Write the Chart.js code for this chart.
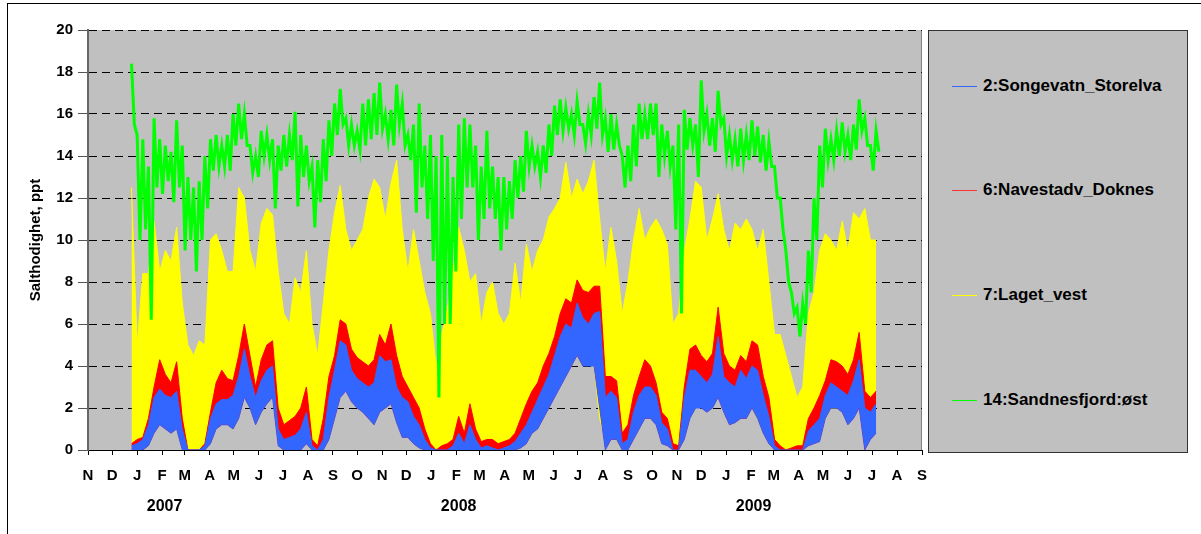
<!DOCTYPE html>
<html>
<head>
<meta charset="utf-8">
<script src="https://cdn.jsdelivr.net/npm/chart.js@4.4.1/dist/chart.umd.min.js"></script>
<style>
html,body{margin:0;padding:0;background:#fff;}
#wrap{position:relative;width:1201px;height:534px;overflow:hidden;font-family:"Liberation Sans",Arial,sans-serif;}
#frame{position:absolute;left:7px;top:3px;width:1400px;height:700px;border:1px solid #000;box-sizing:border-box;}
canvas{position:absolute;left:0;top:0;}
#legend{position:absolute;left:928px;top:30px;width:260px;height:423px;background:#c0c0c0;border:1px solid #333;box-sizing:border-box;}
.item{position:absolute;left:23px;height:20px;display:flex;align-items:center;font-weight:bold;font-size:17px;color:#000;white-space:nowrap;}
.item .sw{width:25px;height:1px;margin-right:6px;}
</style>
</head>
<body>
<div id="wrap">
  <div id="frame"></div>
  <canvas id="c" width="1201" height="534"></canvas>
  <div id="legend"></div>
</div>
<script>
// ---- axis labels ----
const monthLabels = ['N','D','J','F','M','A','M','J','J','A','S','O','N','D',
  'J','F','M','A','M','J','J','A','S','O','N','D',
  'J','F','M','A','M','J','J','A','S'];
const yearLabels = ['2007','2008','2009'];
const seriesNames = ['2:Songevatn_Storelva','6:Navestadv_Doknes','7:Laget_vest','14:Sandnesfjord:øst'];

// weekly samples starting 2006-12-25 (read as weekly high / low of each record)
const sampleStart = '2006-12-25';
const sampleStepDays = 7;

// 14:Sandnesfjord:øst (green)
const greenHi = [18.4,15,14.8,13.5,15.8,14.8,14.5,14.2,15.7,14.5,
  13,12.5,12.8,14,14.8,15,14.5,15,16,16.5,
  16,14.5,14,15.2,15,14.8,14.5,15,15,16.1,
  15,14.5,13.5,13.8,14.8,15.7,16.5,17.2,15.8,15.5,
  15.2,16.5,16.7,17,17.5,16,16.2,17.4,16.5,15,
  15.5,16.5,14.5,15,14,15,14,13,15.5,15.8,
  15.5,14.5,13.5,15.2,13.5,13,13,12.8,13.8,14,
  15.2,14.5,14.2,14.5,15.5,16.4,16.7,16.3,16,16.6,
  15.5,16,16.8,17.5,15.8,16,15.5,14,14.5,15.5,
  16.5,16,16.5,16.5,15.5,15.2,14.5,15.5,16.2,15.8,
  15.5,17.6,16,15.8,17.1,15.8,15,14.8,15.3,15,
  15.7,15.4,15,14.7,13.5,12,9.5,7.5,6.8,7,
  9.5,12,14.5,15.3,14.8,15.2,15.6,15,15.5,16.7,
  15.8,14.5,15.2];
const greenLo = [15.5,10,10.5,6.2,12.5,12.2,12.8,11.8,12.5,9.5,
  10,8.5,10,11.5,13.3,13.5,13.5,13.3,14.5,14.8,
  14.5,13.2,13,14,13.8,11.5,13.3,13.5,13.8,11.6,
  13,12.8,10.6,11.8,12.8,14,15,15.5,14.5,14.5,
  14.3,14.5,14.8,15,15.3,14.8,14.5,15.5,14.5,13.8,
  11.3,12.5,11,9,2.5,6,6,8.5,11,12.5,
  12.5,10,11,11.5,11,9.5,10.5,11,12,12.3,
  13.5,13.5,13,13.2,14,15,15.2,15.3,15,15.5,
  14.6,15,15.3,15,14.2,14.3,14.5,12.5,12.8,13.5,
  14.8,14.8,15,13,14,13.5,10.5,6.5,14.3,14.5,
  13,15.2,14.5,14.2,15.5,14,13.8,13.5,13.8,13.8,
  14,13.7,13.3,13.5,12,10.5,8,6.5,5.4,6,
  7.5,10,12.5,13.8,13.8,14,14.2,13.8,14.3,15.2,
  14.5,13.3,14.2];

// 7:Laget_vest (yellow)
const yellowHi = [12.5,5,8.4,8.4,10.9,8.5,9.5,9,10.6,7,
  5,4.5,5.2,5,10,10.3,9.5,8.5,8.5,12.5,
  12,9.5,8.5,10.8,11.5,11.2,8.5,6.5,6,8.2,
  7.5,9.5,6,4.5,7,9.5,11.3,12.6,10.5,9.5,
  10,10.5,12,12.9,12.5,11,12.7,13.8,10.5,8.5,
  10.5,9,7.5,6.5,4,5.5,6.7,8.5,10.6,9.5,
  8,8.4,6,7.5,8,6.5,6,6.5,8.9,7,
  9.8,8.5,9.5,10,11.1,11.5,12,13.7,12,12.9,
  12.2,12.8,13.8,11,8.5,10.6,9,6.5,8,10,
  11.5,10,10.6,11,10.5,9.8,6,6.5,9.5,11,
  12.8,12.5,10,11,12.2,10.5,9.5,10.8,10.5,11,
  10.5,9.5,10.5,8,5.5,5.5,4.5,3.5,2.5,3,
  6.5,7.5,9.5,10.3,10,9.5,10.9,9.5,11.3,11,
  11.5,10,10];
const yellowLo = [0,0,0,0.5,2,2.5,2.5,2.5,2,0,
  0,0,0,0,1.5,2,2,2,2.5,3,
  3.5,3,2.5,3,3.5,3,2,0.5,0.3,0.5,
  0.5,1,0,0,0.5,2,3,3.5,4,3.5,
  3.5,3,3,3.5,3.5,3,3.5,3,2,1.5,
  1.5,1,0.5,0,0,0,0,0,0.5,0.5,
  0.3,0.3,0.3,0.3,0.3,0.2,0.2,0.3,0.3,0.5,
  1,1.5,1.5,2,2.5,3,3.5,4,4,4.5,
  4,4.5,4,1.5,0.5,0.5,0.5,0,0.3,1,
  1.5,1.5,1.5,1.5,1,1,0,0,1,2,
  2.5,2.8,3,3,2.5,2.5,2.5,2,2,2,
  2,1.5,1,0.5,0,0,0,0,0,0,
  0.3,0.5,0.8,1.5,2,2,2,2,2,2.5,
  2.5,1.5,1.5];

// 6:Navestadv_Doknes (red), weekly high
const redHi = [0.3,0.5,0.6,1.5,3,4.3,3.6,3.2,4.2,1.5,
  0,0,0,0.3,1.8,3.2,3.8,3.4,3.3,4.5,
  6,4.5,3,4.3,5,5.2,2,1.2,1.4,1.6,
  2,3,0.5,0.2,1.5,3.5,4.5,6.2,6,4.8,
  4.4,4.2,4,4.3,5.5,5,6,4.5,3.5,3,
  2.5,2,1,0.3,0,0.2,0.3,0.5,1.6,0.8,
  2.2,1,0.4,0.5,0.5,0.3,0.4,0.5,0.8,1.5,
  2.2,2.8,3.2,4,4.6,5.4,6.5,7.2,7,8.1,
  7.6,7.5,7.8,7.8,3.5,3.5,3.3,0.8,1.2,2.6,
  3.5,4.3,4,3.2,1.8,1.5,0.3,0.2,3,4.8,
  5,4.5,4.2,4.6,6.8,4.6,4,3.8,4.5,4.2,
  5.2,5,3.5,2.5,0.5,0.2,0,0.1,0.2,0.2,
  1.5,2,2.6,3.3,4.3,4.2,4,3.6,4.3,5.6,
  2.8,2.5,2.8];

// 2:Songevatn_Storelva (blue)
const blueHi = [0.2,0.3,0.5,1.2,2.5,2.9,2.6,2.5,2.8,1,
  0,0,0,0.2,1.5,2.2,2.4,2.4,2.6,3.5,
  4.8,3.5,2.5,3.3,3.8,4,1,0.5,0.6,0.7,
  1,1.8,0.2,0,0.5,2.5,3.8,5.2,5,3.8,
  3.4,3.2,3,3.2,4.5,4.2,4.3,3,2.5,2.3,
  1.6,1.2,0.5,0.1,0,0,0,0.2,0.8,0.3,
  1.2,0.5,0.1,0.2,0.1,0,0.1,0.2,0.4,0.8,
  1.2,1.8,2.4,3,3.6,4.5,5.4,6,5.8,7,
  6.3,6,6.5,6.6,2.5,2.8,2.5,0.3,0.5,1.8,
  2.6,3,3,2.6,1.3,1,0,0,2.5,3.8,
  3.8,3.5,3.2,3.6,5.4,3.5,3.2,3,3.8,3.4,
  4,3.8,2.6,1.6,0.2,0,0,0,0,0,
  0.9,1.2,1.5,2.6,3.2,3,2.8,2.6,3.3,4.3,
  2,1.8,2.2];
const blueLo = [0,0,0,0.2,0.8,1.2,1,0.8,1,0,
  0,0,0,0,0.3,1,1.2,1.2,1,1.5,
  2.5,2,1.2,1.8,2.2,2.5,0.2,0,0,0,
  0,0.3,0,0,0,0.5,1.5,2.5,2.8,2.3,
  2,1.8,1.5,1.2,1.8,2,2.2,1.3,0.6,0.6,
  0.3,0.1,0,0,0,0,0,0,0,0,
  0,0,0,0,0,0,0,0,0,0.1,
  0.3,0.8,1,1.5,2,2.5,3,3.5,4,4.5,
  4,4,4,2,0,0.5,0.5,0,0,0.5,
  1,1.5,1.5,1.2,0.3,0.2,0,0,0.5,1.5,
  2,2,1.8,2,2.5,1.8,1.2,1.3,1.5,1.5,
  2,1.5,0.8,0.3,0,0,0,0,0,0,
  0.2,0.3,0.4,1.5,2,2,1.8,1.2,1.5,2,
  0,0.5,0.8];

const colors = {blue:'#3366ff', red:'#ff0000', yellow:'#ffff00', green:'#00ff00'};

// ---- time helpers (days since 2006-11-01 = left edge of axis) ----
const DAY = 86400000;
const axisStart = Date.UTC(2006, 10, 1);
const dayOf = (y, m, d) => (Date.UTC(y, m, d) - axisStart) / DAY;
const monthDays = monthLabels.map((_, i) => dayOf(2006, 10 + i, 1));
const yearDays = yearLabels.map(y => dayOf(+y, 1, 4));
const s0 = sampleStart.split('-').map(Number);
const firstDay = dayOf(s0[0], s0[1] - 1, s0[2]);
const sampleDays = greenHi.map((_, i) => firstDay + i * sampleStepDays);

// green record drawn as a noisy trace: weekly high, then weekly low half a week later
const greenTrace = [];
greenHi.forEach((h, i) => {
  greenTrace.push({x: sampleDays[i], y: h});
  greenTrace.push({x: sampleDays[i] + sampleStepDays / 2, y: greenLo[i]});
});

const FONT = '"Liberation Sans", Arial, sans-serif';
Chart.defaults.font.family = FONT;
Chart.defaults.color = '#000';

const plotBg = {
  id: 'plotBg',
  beforeDraw(chart) {
    const {ctx, chartArea: a} = chart;
    ctx.save();
    ctx.fillStyle = '#c0c0c0';
    ctx.fillRect(a.left, a.top, a.right - a.left, a.bottom - a.top);
    ctx.strokeStyle = '#808080';
    ctx.lineWidth = 1;
    ctx.beginPath();
    ctx.moveTo(a.right - 0.5, a.top);
    ctx.lineTo(a.right - 0.5, a.bottom);
    ctx.stroke();
    ctx.restore();
  }
};

function band(label, data, color, order, fill) {
  return {label, data, borderColor: color, backgroundColor: color, borderWidth: 1,
    pointRadius: 0, tension: 0, order, fill: fill === undefined ? false : fill};
}

new Chart(document.getElementById('c'), {
  type: 'line',
  data: {
    labels: sampleDays,
    datasets: [
      band('yLo', yellowLo, colors.yellow, 7),
      band(seriesNames[2], yellowHi, colors.yellow, 6, '-1'),
      band('bLo', blueLo, colors.blue, 5),
      band(seriesNames[1], redHi, colors.red, 4, '-1'),
      band(seriesNames[0], blueHi, colors.blue, 3, '-2'),
      {label: seriesNames[3], data: greenTrace, borderColor: colors.green, backgroundColor: colors.green,
        borderWidth: 3, pointRadius: 0, tension: 0, order: 1, fill: false}
    ]
  },
  options: {
    responsive: false,
    animation: false,
    layout: {padding: {left: 27, top: 30, right: 279, bottom: 0}},
    plugins: {legend: {display: false}, tooltip: {enabled: false}},
    scales: {
      x: {
        type: 'linear', position: 'bottom', weight: 0, min: 0, max: monthDays[monthDays.length - 1],
        afterBuildTicks: s => { s.ticks = monthDays.map(v => ({value: v})); },
        afterFit: s => { s.height = 40; },
        ticks: {autoSkip: false, maxRotation: 0, minRotation: 0, padding: 12,
          font: {size: 15, weight: 'bold'}, color: '#000',
          callback: (v, i) => monthLabels[i]},
        grid: {drawOnChartArea: false, drawTicks: true, tickLength: 5, color: '#000'},
        border: {color: '#000', width: 1}
      },
      x2: {
        type: 'linear', position: 'bottom', weight: 1, min: 0, max: monthDays[monthDays.length - 1],
        afterBuildTicks: s => { s.ticks = yearDays.map(v => ({value: v})); },
        afterFit: s => { s.height = 44; },
        ticks: {autoSkip: false, maxRotation: 0, minRotation: 0, padding: 7,
          font: {size: 16, weight: 'bold'}, color: '#000',
          callback: (v, i) => yearLabels[i]},
        grid: {display: false, drawTicks: false},
        border: {display: false}
      },
      y: {
        min: 0, max: 20,
        afterFit: s => { s.width = 61; },
        ticks: {stepSize: 2, padding: 5, font: {size: 15, weight: 'bold'}, color: '#000'},
        grid: {color: '#000', lineWidth: 1, tickLength: 10, tickColor: '#555'},
        border: {dash: [8, 5], color: '#666', width: 2},
        title: {display: true, text: 'Salthodighet, ppt', padding: 0,
          font: {size: 15, weight: 'bold'}, color: '#000'}
      }
    }
  },
  plugins: [plotBg]
});

// ---- legend (HTML, real text) ----
const legend = document.getElementById('legend');
const legendColors = [colors.blue, '#ff3333', colors.yellow, colors.green];
const legendTops = [45, 149, 254, 359];
seriesNames.forEach((name, i) => {
  const d = document.createElement('div');
  d.className = 'item';
  d.style.top = legendTops[i] + 'px';
  const sw = document.createElement('div');
  sw.className = 'sw';
  sw.style.background = legendColors[i];
  d.appendChild(sw);
  d.appendChild(document.createTextNode(name));
  legend.appendChild(d);
});
</script>
</body>
</html>
